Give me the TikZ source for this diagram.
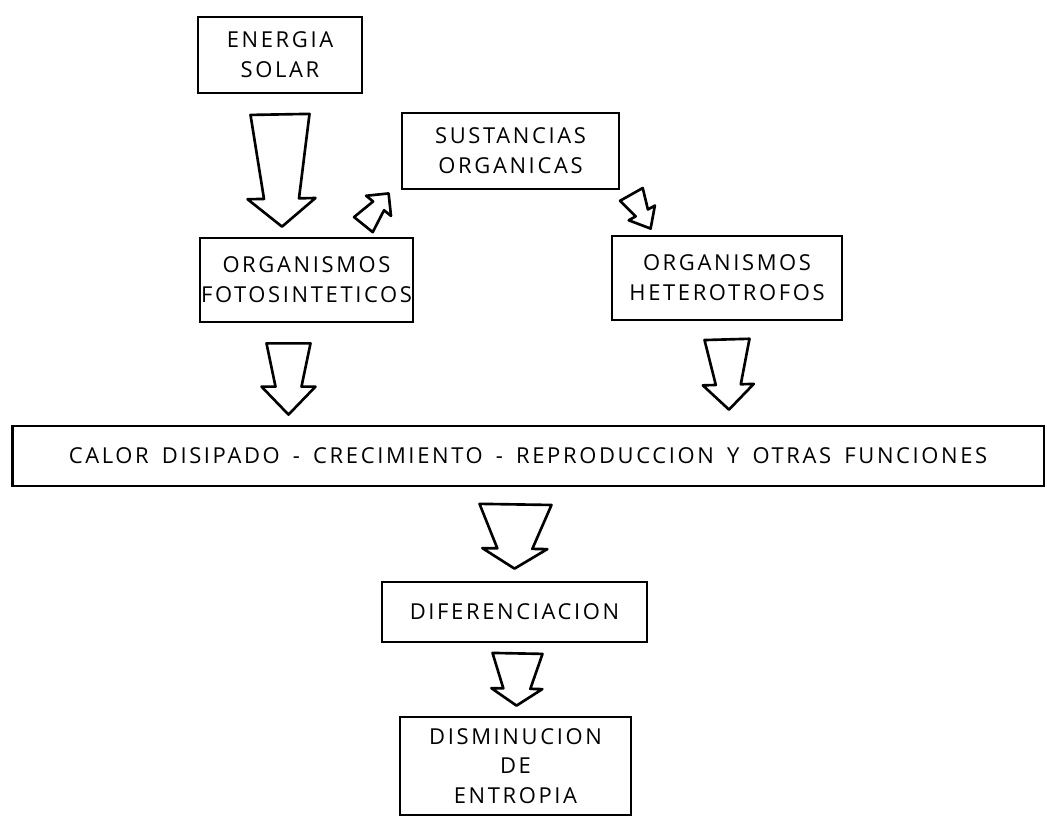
\documentclass[tikz,border=0pt]{standalone}
\usepackage{fontspec}
\newfontfamily\handfont[LetterSpace=12]{Open Sans}
\usetikzlibrary{calc}

\newcommand{\pxu}{0.02cm}
% hollow tapered arrow: tail, tip, tail half width, neck half width, head half width, head length
\newcommand{\hollowarrow}[6]{%
  \coordinate (#2-neck) at ($(#2)!#6*\pxu!(#1)$);
  \draw[blockarrow] ($(#1)!#3*\pxu!90:(#2)$) -- ($(#2-neck)!#4*\pxu!90:(#2)$)
    -- ($(#2-neck)!#5*\pxu!90:(#2)$) -- (#2) -- ($(#2-neck)!#5*\pxu!-90:(#2)$)
    -- ($(#2-neck)!#4*\pxu!-90:(#2)$) -- ($(#1)!#3*\pxu!-90:(#2)$) -- cycle;
}

\begin{document}
\begin{tikzpicture}[
    x=0.02cm, y=-0.02cm,
    box/.style={
        rectangle,
        draw,
        line width=1.6pt,
        align=center,
        inner sep=0pt,
        font=\handfont\fontsize{12.5}{17}\selectfont
    },
    blockarrow/.style={draw, line width=1.5pt, line join=round, fill=white}
]
\useasboundingbox (0,0) rectangle (1047,816);

\node[box, minimum width=3.28cm, minimum height=1.52cm] (solar) at (280,55) {ENERGIA\\SOLAR};
\node[box, minimum width=4.34cm, minimum height=1.52cm] (sust) at (510.5,151) {SUSTANCIAS\\ORGANICAS};
\node[box, minimum width=4.26cm, minimum height=1.68cm] (foto) at (306.5,280) {ORGANISMOS\\FOTOSINTETICOS};
\node[box, minimum width=4.6cm, minimum height=1.68cm] (hetero) at (727,278) {ORGANISMOS\\HETEROTROFOS};
\node[box, minimum width=20.64cm, minimum height=1.2cm] (calor) at (528,456)
    {\spaceskip=0.6em CALOR DISIPADO - CRECIMIENTO - REPRODUCCION Y OTRAS FUNCIONES};
\node[box, minimum width=5.3cm, minimum height=1.2cm] (dif) at (514.5,612) {DIFERENCIACION};
\node[box, minimum width=4.62cm, minimum height=1.96cm] (dis) at (515.5,766) {DISMINUCION\\DE\\ENTROPIA};

% arrow ends
\coordinate (solar-out) at ($(solar.south)+(0,20)$);
\coordinate (foto-in) at ($(solar.south |- foto.north)+(2,-10)$);
\coordinate (foto-up) at ($(foto.north east)+(-51,-12)$);
\coordinate (sust-in) at ($(sust.south west)+(-12,3)$);
\coordinate (sust-out) at ($(sust.south east)+(11,4)$);
\coordinate (hetero-in) at ($(hetero.north west)+(40,-6)$);
\coordinate (foto-out) at ($(foto.south)+(-18,20)$);
\coordinate (calor-in1) at ($(foto-out |- calor.north)+(0,-10)$);
\coordinate (hetero-out) at ($(hetero.south)+(0,18)$);
\coordinate (calor-in2) at ($(hetero-out |- calor.north)+(2,-15)$);
\coordinate (calor-out) at ($(dif.north |- calor.south)+(1,17)$);
\coordinate (dif-in) at ($(dif.north)+(0,-12)$);
\coordinate (dif-out) at ($(dif.south)+(3,10)$);
\coordinate (dis-in) at ($(dis.north)+(1,-10)$);

\hollowarrow{solar-out}{foto-in}{29.5}{17.5}{34}{28}
\hollowarrow{foto-up}{sust-in}{12}{7}{16}{16}
\hollowarrow{sust-out}{hetero-in}{13}{7}{15}{18}
\hollowarrow{foto-out}{calor-in1}{22}{13}{27}{28}
\hollowarrow{hetero-out}{calor-in2}{22.5}{12.5}{25.5}{25}
\hollowarrow{calor-out}{dif-in}{36}{17.5}{32.5}{20}
\hollowarrow{dif-out}{dis-in}{25}{13.5}{25.5}{17}

\end{tikzpicture}
\end{document}
